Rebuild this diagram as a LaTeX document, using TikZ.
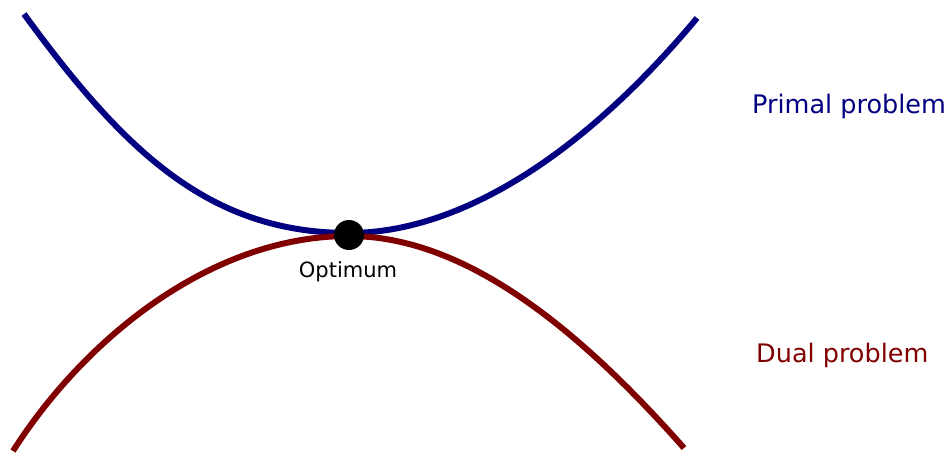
\documentclass[tikz,border=0pt]{standalone}
\usepackage{fontspec}
\setmainfont{DejaVu Sans}
\definecolor{primalblue}{RGB}{0,0,128}
\definecolor{dualred}{RGB}{128,0,0}
\begin{document}
\begin{tikzpicture}[x=1pt, y=-1pt,
        curve/.style={line width=6pt},
        label/.style={inner sep=0pt, anchor=base west, font=\fontsize{25.5}{30}\selectfont}]
    \useasboundingbox (0,0) rectangle (949,453);
    \coordinate (top) at (349,233);
    \coordinate (bottom) at (349,236);
    \draw[curve, primalblue] (24,14) .. controls (124,151) and (209,233) .. (top)
        .. controls (459,233) and (582,156) .. (697,18);
    \draw[curve, dualred] (13,451) .. controls (83,341) and (209,236) .. (bottom)
        .. controls (469,236) and (584,335) .. (684,448);
    \node[circle, fill=black, minimum size=30pt, inner sep=0pt] (opt) at (349,235) {};
    \node[inner sep=0pt, anchor=base, font=\fontsize{21}{24}\selectfont] (optlabel) at (348,277) {Optimum};
    \node[label, text=primalblue] (primal) at (752,113) {Primal problem};
    \node[label, text=dualred] (dual) at (756,362) {Dual problem};
\end{tikzpicture}
\end{document}
